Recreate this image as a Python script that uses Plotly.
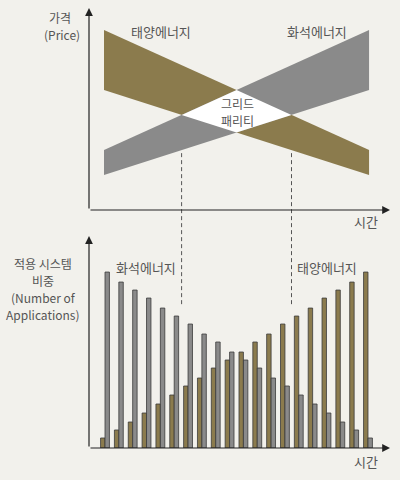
import plotly.graph_objects as go

# 위쪽: 가격 밴드 (시간 시작/끝 값)
band_time = [1, 10]
solar_high = [9.0, 3.0]
solar_low = [6.0, 1.75]
fossil_high = [3.0, 9.0]
fossil_low = [1.75, 6.0]

# 아래쪽: 적용 시스템 비중
periods = list(range(1, 21))
solar_share = [5, 9, 13, 17.5, 22, 26.5, 31, 35, 40, 44, 48, 53, 57, 62, 66, 70, 75, 79, 83, 88]
fossil_share = [88, 83, 79, 75, 70, 66, 62, 57, 53, 48, 44, 40, 35, 31, 26.5, 22, 17.5, 13, 9, 5]

GOLD = "#8b7b4d"
GRAY = "#8a8a8a"
BG = "#f2f1ec"
TXT = "#555555"
FONT = "Noto Sans CJK KR"

top_x_range = [0.49, 10.71]
top_y_range = [0, 10]
bot_x_range = [-0.156, 21.59]
bot_y_range = [0, 105]
x_dom = [0.2225, 0.975]
top_y_dom = [0.5625, 0.979]
bot_y_dom = [0.0667, 0.504]


def intersect(a, b):
    # 두 직선 (band_time 위의 양 끝값) 교점
    t0, t1 = band_time
    sa = (a[1] - a[0]) / (t1 - t0)
    sb = (b[1] - b[0]) / (t1 - t0)
    t = t0 + (b[0] - a[0]) / (sa - sb)
    return t, a[0] + sa * (t - t0)


def at(line, t):
    t0, t1 = band_time
    return line[0] + (line[1] - line[0]) * (t - t0) / (t1 - t0)


def to_paper(v, rng, dom):
    return dom[0] + (v - rng[0]) / (rng[1] - rng[0]) * (dom[1] - dom[0])


fig = go.Figure()

fig.add_trace(go.Scatter(
    x=band_time + band_time[::-1], y=solar_high + solar_low[::-1],
    fill="toself", fillcolor=GOLD, mode="lines", line=dict(width=0),
    hoverinfo="skip", xaxis="x", yaxis="y"))
fig.add_trace(go.Scatter(
    x=band_time + band_time[::-1], y=fossil_high + fossil_low[::-1],
    fill="toself", fillcolor=GRAY, mode="lines", line=dict(width=0),
    hoverinfo="skip", xaxis="x", yaxis="y"))

# 그리드 패리티 영역 (겹치는 부분)
top_v = intersect(solar_high, fossil_high)
left_v = intersect(solar_low, fossil_high)
bot_v = intersect(solar_low, fossil_low)
right_v = intersect(solar_high, fossil_low)
dia = [top_v, right_v, bot_v, left_v, top_v]
fig.add_trace(go.Scatter(
    x=[p[0] for p in dia], y=[p[1] for p in dia],
    fill="toself", fillcolor="white", mode="lines", line=dict(width=0),
    hoverinfo="skip", xaxis="x", yaxis="y"))

fig.add_trace(go.Bar(x=periods, y=solar_share, marker=dict(color=GOLD, line=dict(color="#3a3a3a", width=0.8)),
                     xaxis="x2", yaxis="y2"))
fig.add_trace(go.Bar(x=periods, y=fossil_share, marker=dict(color=GRAY, line=dict(color="#3a3a3a", width=0.8)),
                     xaxis="x2", yaxis="y2"))

# 점선 (그리드 패리티 지점)
for v in (left_v, right_v):
    low_edge = min(at(solar_low, v[0]), at(fossil_low, v[0]))
    y_start = to_paper(low_edge - 0.15, top_y_range, top_y_dom)
    y_end = to_paper(71.5, bot_y_range, bot_y_dom)
    fig.add_shape(type="line", xref="x", yref="paper", x0=v[0], x1=v[0], y0=y_start, y1=y_end,
                  line=dict(color="#555555", width=1, dash="4px,3px"))

arrows = [
    dict(x=top_x_range[1], y=0, ax=top_x_range[0], ay=0, xref="x", yref="y", axref="x", ayref="y"),
    dict(x=top_x_range[0], y=10.1, ax=top_x_range[0], ay=0, xref="x", yref="y", axref="x", ayref="y"),
    dict(x=bot_x_range[1], y=0, ax=bot_x_range[0], ay=0, xref="x2", yref="y2", axref="x2", ayref="y2"),
    dict(x=bot_x_range[0], y=106, ax=bot_x_range[0], ay=0, xref="x2", yref="y2", axref="x2", ayref="y2"),
]
for a in arrows:
    fig.add_annotation(text="", showarrow=True, arrowhead=2, arrowsize=1.3, arrowwidth=1.2,
                       arrowcolor="#222222", standoff=0, **a)

# (텍스트, x px, y px, 크기) - 여러 줄은 줄마다 따로
labels = [
    ("가격", 60, 18, 12),
    ("(Price)", 62, 35, 12),
    ("태양에너지", 161, 32, 13),
    ("화석에너지", 317, 32, 13),
    ("그리드", 237, 103, 12),
    ("패리티", 237, 120, 12),
    ("시간", 366, 221, 13),
    ("적용 시스템", 43, 263, 12),
    ("비중", 43, 280, 12),
    ("(Number of", 43, 297, 12),
    ("Applications)", 43, 314, 12),
    ("화석에너지", 146, 267, 13),
    ("태양에너지", 327, 267, 13),
    ("시간", 366, 461, 13),
]
for txt, px, py, sz in labels:
    fig.add_annotation(text=txt, x=px / 400, y=1 - py / 480, xref="paper", yref="paper",
                       xanchor="center", yanchor="middle",
                       showarrow=False, font=dict(family=FONT, size=sz, color=TXT), align="center")

ax_style = dict(showgrid=False, zeroline=False, showticklabels=False, showline=False, ticks="")
fig.update_layout(
    width=400, height=480,
    margin=dict(l=0, r=0, t=0, b=0),
    paper_bgcolor=BG, plot_bgcolor=BG,
    showlegend=False,
    barmode="group", bargap=0.36, bargroupgap=0,
    xaxis=dict(domain=x_dom, range=top_x_range, anchor="y", **ax_style),
    yaxis=dict(domain=top_y_dom, range=top_y_range, anchor="x", **ax_style),
    xaxis2=dict(domain=x_dom, range=bot_x_range, anchor="y2", **ax_style),
    yaxis2=dict(domain=bot_y_dom, range=bot_y_range, anchor="x2", **ax_style),
)

fig.write_html("out.html", config={"displayModeBar": False},
               post_script="document.body.style.margin='0';")
